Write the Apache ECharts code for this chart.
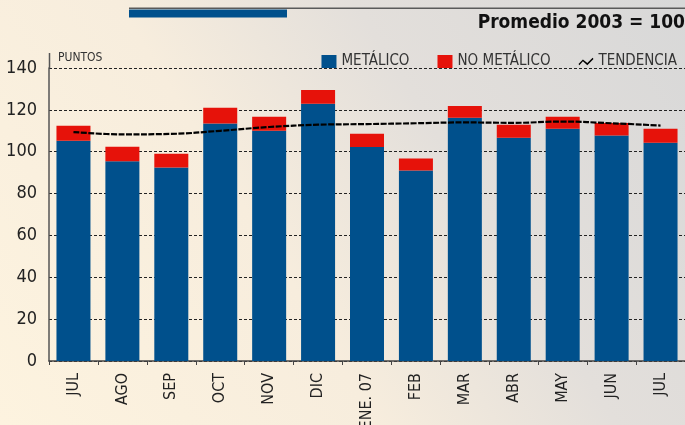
<!DOCTYPE html>
<html>
<head>
<meta charset="utf-8">
<script src="https://cdn.jsdelivr.net/npm/echarts@6/dist/echarts.min.js"></script>
<style>
  html, body { margin: 0; padding: 0; overflow: hidden; }
  #chart { width: 685px; height: 425px; }
</style>
</head>
<body>
<div id="chart"></div>
<script>
// meses (jul 2006 - jul 2007)
let months = ['JUL', 'AGO', 'SEP', 'OCT', 'NOV', 'DIC', 'ENE. 07', 'FEB', 'MAR', 'ABR', 'MAY', 'JUN', 'JUL']
let metalico = [105.2, 95.4, 92.4, 113.5, 110.0, 122.9, 102.2, 91.0, 116.2, 106.7, 111.0, 107.8, 104.3]
let noMetalico = [7.2, 7.0, 6.6, 7.5, 6.7, 6.6, 6.4, 5.7, 5.7, 6.2, 5.7, 5.9, 6.7]
let tendencia = [109.4, 108.3, 108.5, 110.0, 111.8, 112.9, 113.2, 113.6, 114.0, 113.8, 114.4, 113.6, 112.5]
let yTicks = [0, 20, 40, 60, 80, 100, 120, 140]

let font = "'Liberation Sans Narrow', 'DejaVu Sans Condensed', sans-serif"
let blue = '#00508c'
let red = '#e6120a'

let chart = echarts.init(document.getElementById('chart'), null, { renderer: 'canvas' })
chart.setOption({
  animation: false,
  backgroundColor: {
    type: 'linear', x: 0, y: 1, x2: 1, y2: 0,
    colorStops: [
      { offset: 0, color: '#fdf3df' },
      { offset: 0.4, color: '#f7eddd' },
      { offset: 0.65, color: '#e3dfdb' },
      { offset: 1, color: '#d8d8d8' },
    ],
  },
  title: {
    text: 'Promedio 2003 = 100',
    right: 0,
    top: 14,
    padding: 0,
    textStyle: { fontFamily: font, fontWeight: 'bold', fontSize: 19, color: '#111' },
  },
  graphic: [
    // filete superior
    { type: 'rect', shape: { x: 129, y: 7.5, width: 556, height: 1.5 }, style: { fill: '#5a5a5a' } },
    { type: 'rect', shape: { x: 129, y: 9.5, width: 158, height: 8 }, style: { fill: blue } },
    // prolongación del eje vertical
    { type: 'line', shape: { x1: 49.5, y1: 53, x2: 49.5, y2: 68 }, style: { stroke: '#555', lineWidth: 1.5 } },
    { type: 'text', left: 58, top: 52, style: { text: 'PUNTOS', font: '12px ' + font, fill: '#333' } },
  ],
  legend: {
    right: 3,
    top: 49,
    itemGap: 28,
    itemWidth: 15,
    itemHeight: 13,
    textStyle: { fontFamily: font, fontSize: 15, color: '#333' },
    data: [
      { name: 'METÁLICO', icon: 'rect' },
      { name: 'NO METÁLICO', icon: 'rect' },
      { name: 'TENDENCIA', icon: 'path://M0,8 L5,3 L10,7 L16,1 L17,2.5 L10,9.5 L5,5 L1,9.5 Z', itemStyle: { color: '#000' } },
    ],
  },
  grid: { left: 49, right: 0, top: 68, bottom: 64, outerBoundsMode: 'none', containLabel: false },
  xAxis: {
    type: 'category',
    data: months,
    boundaryGap: true,
    axisLine: { lineStyle: { color: '#444', width: 1.5 } },
    axisTick: { show: true, length: 4, lineStyle: { color: '#444' } },
    axisLabel: { rotate: 90, margin: 12, fontFamily: font, fontSize: 16, color: '#222' },
  },
  yAxis: {
    type: 'value',
    min: yTicks[0],
    max: yTicks[yTicks.length - 1],
    interval: 20,
    axisLine: { show: true, lineStyle: { color: '#555', width: 1.5 } },
    axisTick: { show: false },
    axisLabel: { margin: 12, fontFamily: font, fontSize: 18, color: '#222' },
    splitLine: { lineStyle: { color: '#222', type: [3, 2], width: 1 } },
  },
  series: [
    {
      name: 'METÁLICO',
      type: 'bar',
      stack: 'total',
      barWidth: 34,
      itemStyle: { color: blue },
      data: metalico,
    },
    {
      name: 'NO METÁLICO',
      type: 'bar',
      stack: 'total',
      barWidth: 34,
      itemStyle: { color: red },
      data: noMetalico,
    },
    {
      name: 'TENDENCIA',
      type: 'line',
      smooth: 0.4,
      symbol: 'none',
      z: 5,
      lineStyle: { color: '#000', width: 2.2, type: [6, 1.5] },
      itemStyle: { color: '#000' },
      data: tendencia,
    },
  ],
})
</script>
</body>
</html>
